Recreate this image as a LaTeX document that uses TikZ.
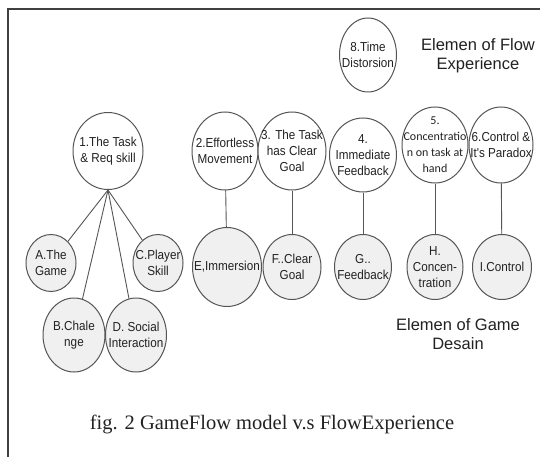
\documentclass[tikz,border=0pt]{standalone}
\usepackage{fontspec}
\setmainfont{Liberation Sans}
\newfontfamily\nodefont{Liberation Sans}[FakeStretch=0.9]
\newfontfamily\capfont{Liberation Serif}
\newfontfamily\calfont{Carlito}
\usetikzlibrary{shapes.geometric}
\definecolor{edgegrey}{HTML}{555555}
\definecolor{txtgrey}{HTML}{222222}
\definecolor{lowfill}{HTML}{F0F0F0}
\tikzset{
  oval/.style={ellipse, draw=edgegrey, line width=1pt, inner sep=0pt, fill=white},
  upper/.style={oval},
  lower/.style={oval, fill=lowfill},
  txt/.style={text=txtgrey, align=center, font=\nodefont\fontsize{13}{16}\selectfont, inner sep=0pt},
  conn/.style={draw=edgegrey, line width=0.9pt},
  frame/.style={draw=black!75, line width=1.6pt},
  heading/.style={text=txtgrey, align=center, font=\fontsize{16.5}{19}\selectfont},
}
\begin{document}
\begin{tikzpicture}[x=1pt,y=-1pt]
\useasboundingbox (0,0) rectangle (540,457);
\fill[white] (0,0) rectangle (540,457);
\draw[frame] (8,457) -- (8,9) -- (541,9);

% upper nodes
\node[upper, minimum width=57pt, minimum height=74pt, label={[txt,name=t8]center:8.Time\\Distorsion}] (n8) at (368,55) {};
\node[upper, minimum width=70pt, minimum height=77pt, label={[txt,name=t1]center:1.The Task\\\& Req skill}] (n1) at (108,151) {};
\node[upper, minimum width=66pt, minimum height=78pt, label={[txt,name=t2]center:2.Effortless\\Movement}] (n2) at (225,151) {};
\node[upper, minimum width=68pt, minimum height=78pt, label={[txt,name=t3]center:3. The Task\\has Clear\\Goal}] (n3) at (292,151) {};
\node[upper, minimum width=67pt, minimum height=74pt, label={[txt,name=t4]center:4.\\Immediate\\Feedback}] (n4) at (363,155) {};
\node[upper, minimum width=66pt, minimum height=76pt, label={[txt,name=t5,font=\calfont\fontsize{12}{16}\selectfont]center:5.\\Concentratio\\n on task at\\hand}] (n5) at (435,145) {};
\node[upper, minimum width=64pt, minimum height=76pt, label={[txt,name=t6]center:6.Control \&\\It's Paradox}] (n6) at (501,145) {};

% lower nodes
\node[lower, minimum width=50pt, minimum height=57pt, label={[txt,name=tA]center:A.The\\Game}] (A) at (51,263) {};
\node[lower, minimum width=50pt, minimum height=57pt, label={[txt,name=tC]center:C.Player\\Skill}] (C) at (158,263) {};
\node[lower, minimum width=62pt, minimum height=74pt, label={[txt,name=tB]center:B.Chale\\nge}] (B) at (74,335) {};
\node[lower, minimum width=61pt, minimum height=74pt, label={[txt,name=tD]center:D. Social\\Interaction}] (D) at (136,335) {};
\node[lower, minimum width=69pt, minimum height=79pt, label={[txt,name=tE]center:E,Immersion}] (E) at (227,267) {};
\node[lower, minimum width=58pt, minimum height=65pt, label={[txt,name=tF]center:F..Clear\\Goal}] (F) at (292,267) {};
\node[lower, minimum width=57pt, minimum height=65pt, label={[txt,name=tG]center:G..\\Feedback}] (G) at (363,267) {};
\node[lower, minimum width=56pt, minimum height=65pt, label={[txt,name=tH]center:H.\\Concen-\\tration}] (H) at (435,267) {};
\node[lower, minimum width=59pt, minimum height=65pt, label={[txt,name=tI]center:I.Control}] (I) at (502,267) {};

% connectors
\draw[conn] (n1.south) -- (A);
\draw[conn] (n1.south) -- (B);
\draw[conn] (n1.south) -- (D);
\draw[conn] (n1.south) -- (C);
\draw[conn] (n2) -- (E);
\draw[conn] (n3) -- (F);
\draw[conn] (n4) -- (G);
\draw[conn] (n5) -- (H);
\draw[conn] (n6) -- (I);

% headings
\node[heading] (flowlbl) at (478,56) {Elemen of Flow\\Experience};
\node[heading] (gamelbl) at (458,334) {Elemen of Game\\Desain};
\node[text=txtgrey, font=\capfont\fontsize{20.5}{24}\selectfont] (caption) at (272,424) {fig. 2 GameFlow model v.s FlowExperience};
\end{tikzpicture}
\end{document}
